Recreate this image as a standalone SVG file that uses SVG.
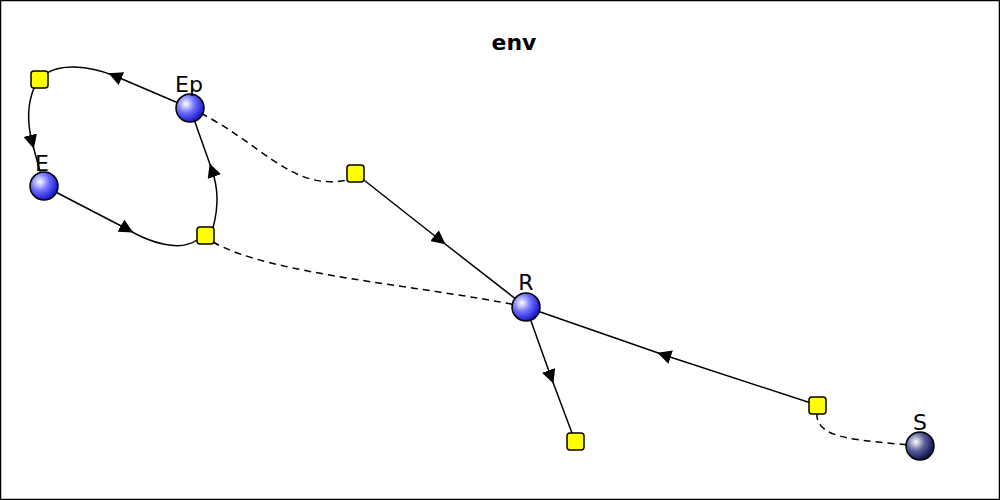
<svg xmlns="http://www.w3.org/2000/svg" width="1000" height="500" viewBox="0 0 1000 500">
<defs>
<radialGradient id="gb" cx="0.35" cy="0.35" r="0.65"><stop offset="0" stop-color="#ffffff"/><stop offset="0.5" stop-color="#6f6fff"/><stop offset="1" stop-color="#1a1acc"/></radialGradient>
<radialGradient id="gs" cx="0.35" cy="0.35" r="0.65"><stop offset="0" stop-color="#ffffff"/><stop offset="0.5" stop-color="#5a5f9a"/><stop offset="1" stop-color="#101850"/></radialGradient>
<marker id="a" viewBox="0 0 10 10" refX="5" refY="5" markerWidth="14" markerHeight="14" markerUnits="userSpaceOnUse" orient="auto"><path d="M0,0 L10,5 L0,10 z" fill="#000"/></marker>
</defs>
<style>
.e{fill:none;stroke:#000;stroke-width:1.5;marker-mid:url(#a)}
.d{fill:none;stroke:#000;stroke-width:1.5;stroke-dasharray:7,5}
.n{stroke:#000;stroke-width:1.5}
.q{fill:#ffff00;stroke:#000;stroke-width:1.5}
text{font-family:"DejaVu Sans",sans-serif;font-size:22px;fill:#000}
</style>
<rect x="0.5" y="0.5" width="999" height="499" fill="#fff" stroke="#000" stroke-width="1.5"/>
<text x="514" y="50" text-anchor="middle" font-weight="bold">env</text>
<g id="connectors">
<path class="e" d="M190,108 L115,76 C85,64 60,65 47,73"/>
<path class="e" d="M34,88 C27,105 27,122 32,142 L44,186"/>
<path class="e" d="M44,186 L127,229 C150,243 180,252 197,240"/>
<path class="e" d="M213,228 C219,205 218,188 212,170 L190,108"/>
<path class="d" d="M190,108 C260,140 290,192 347,180"/>
<path class="d" d="M213,242 C270,275 420,285 526,307"/>
<path class="e" d="M355,173 L440,240 L526,307"/>
<path class="e" d="M526,307 L551,377 L575,441"/>
<path class="e" d="M817,405 L664,355 L526,307"/>
<path class="d" d="M817,413 C815,440 860,440 920,446"/>
</g>
<g id="sq1"><rect class="q" x="31" y="71" width="17" height="17" rx="3"/></g>
<g id="sq2"><rect class="q" x="197" y="227" width="17" height="17" rx="3"/></g>
<g id="sq3"><rect class="q" x="347" y="165" width="17" height="17" rx="3"/></g>
<g id="sq4"><rect class="q" x="809" y="397" width="17" height="17" rx="3"/></g>
<g id="sq5"><rect class="q" x="567" y="433" width="17" height="17" rx="3"/></g>
<g id="E"><circle class="n" cx="44" cy="186" r="14" fill="url(#gb)"/><text x="42" y="171" text-anchor="middle">E</text></g>
<g id="Ep"><circle class="n" cx="190" cy="108" r="14" fill="url(#gb)"/><text x="189" y="92" text-anchor="middle">Ep</text></g>
<g id="R"><circle class="n" cx="526" cy="307" r="14" fill="url(#gb)"/><text x="526" y="290" text-anchor="middle">R</text></g>
<g id="S"><circle class="n" cx="920" cy="446" r="14" fill="url(#gs)"/><text x="920" y="430" text-anchor="middle">S</text></g>
</svg>
